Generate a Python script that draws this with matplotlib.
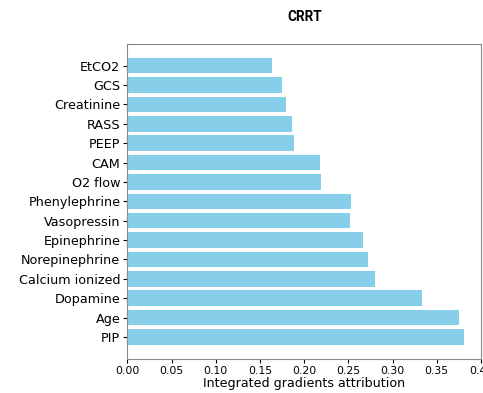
import matplotlib
matplotlib.use("Agg")
import matplotlib.pyplot as plt

features = ["PIP", "Age", "Dopamine", "Calcium ionized", "Norepinephrine",
            "Epinephrine", "Vasopressin", "Phenylephrine", "O2 flow", "CAM",
            "PEEP", "RASS", "Creatinine", "GCS", "EtCO2"]
attributions = [0.3804, 0.3755, 0.3337, 0.2800, 0.2720,
                0.2660, 0.2520, 0.2525, 0.2190, 0.2175,
                0.1885, 0.1862, 0.1795, 0.1746, 0.1637]

fig = plt.figure(figsize=(4.83, 3.93), dpi=100)
ax = fig.add_axes([0.2636, 0.0865, 0.7323, 0.8025])
ax.barh(features, attributions, color="skyblue", height=0.8)
ax.set_xlim(0, 0.4)
ax.set_xticks([0, 0.05, 0.1, 0.15, 0.2, 0.25, 0.3, 0.35, 0.4])
ax.set_xticklabels(["0.00", "0.05", "0.10", "0.15", "0.20", "0.25",
                    "0.30", "0.35", "0.40"], fontsize=7.8)
ax.tick_params(axis="y", labelsize=9.2, length=3, pad=2)
ax.tick_params(axis="x", length=3, pad=2)
ax.set_xlabel("Integrated gradients attribution", fontsize=9.1, labelpad=1)
for s in ax.spines.values():
    s.set_color("#888888")
fig.text(0.631, 0.957, "CRRT", ha="center", va="center",
         fontsize=9.8, fontweight="bold", family="Roboto")

fig.savefig("out.png", dpi=100)
